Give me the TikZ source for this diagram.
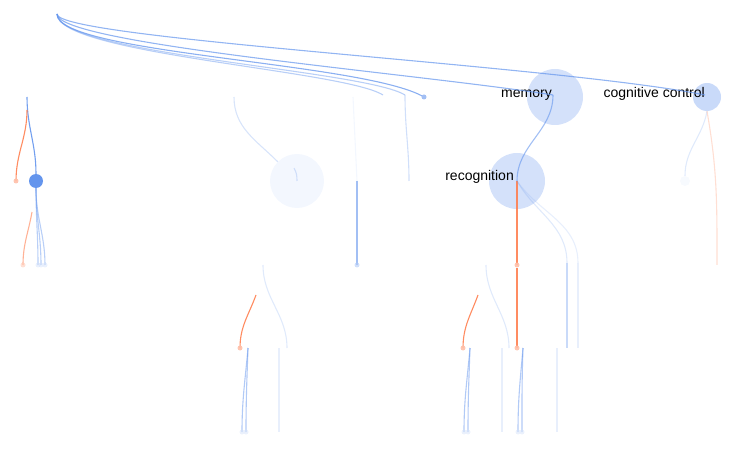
\documentclass[tikz,border=0pt]{standalone}
\usepackage{fontspec}
\setmainfont{Liberation Sans}
\definecolor{cblue}{HTML}{6495ED}
\definecolor{corange}{HTML}{FF7F50}
\tikzset{
  blink/.style={draw=cblue, line width=1.1pt, opacity=#1},
  blink/.default=0.55,
  olink/.style={draw=corange, line width=1.1pt, opacity=#1},
  olink/.default=0.9,
  topic/.style={circle, inner sep=0pt, minimum size=#1, draw=none},
  tip/.style={circle, inner sep=0pt, minimum size=5pt, fill=#1},
  lab/.style={font=\fontsize{14}{16}\selectfont, anchor=base east, inner sep=0pt}
}
\begin{document}
\begin{tikzpicture}[x=1pt, y=-1pt]
  \useasboundingbox (0,0) rectangle (742,465);
  % Topics
  \node[topic=56pt, fill=cblue!28] (memory) at (555,97) {};
  \node[topic=28pt, fill=cblue!35] (control) at (707,97) {};
  \node[topic=56pt, fill=cblue!28] (recog) at (517,181) {};
  \node[topic=54pt, fill=cblue!8] (ghost) at (297,181) {};
  \node[topic=14pt, fill=cblue] (hub) at (36,181) {};
  \node[topic=10pt, fill=cblue!5] (ghostb) at (685,181) {};
  % Labels
  \node[lab] at (552,98) {memory};
  \node[lab] at (705,98) {cognitive control};
  \node[lab] at (514,181) {recognition};
  % Ends
  \coordinate (root) at (57,14);
  \coordinate (ta) at (383,95);
  \coordinate (tb) at (405,95);
  \coordinate (tc) at (424,97);
  \coordinate (tm) at (553,95);
  \coordinate (tk) at (705,95);
  \coordinate (la) at (27,97);
  \coordinate (lb) at (27,110);
  \coordinate (lc) at (32,212);
  \coordinate (ma) at (234,97);
  \coordinate (mb) at (353,97);
  \coordinate (mc) at (357,181);
  \coordinate (md) at (409,181);
  \coordinate (me) at (294,168);
  \coordinate (ra) at (567,263);
  \coordinate (rb) at (578,263);
  \coordinate (rc) at (717,265);
  \coordinate (rd) at (567,348);
  \coordinate (re) at (578,348);
  % Top arcs
  \draw[blink=0.45] (root) .. controls +(0,40) and +(-40,-25) .. (ta);
  \draw[blink=0.45] (root) .. controls +(0,40) and +(-40,-25) .. (tb);
  \draw[blink=0.75] (root) .. controls +(0,40) and +(-60,-35) .. (tc);
  \draw[blink=0.7] (root) .. controls +(0,30) and +(-140,-22) .. (tm);
  \draw[blink=0.7] (root) .. controls +(0,25) and +(-150,-30) .. (tk);
  \node[tip=cblue!60] at (tc) {};
  % Left tree
  \draw[blink=0.9] (la) to[out=-90,in=90] (hub);
  \draw[olink] (lb) to[out=-90,in=90] (16,181) node[tip=corange!50] (lo) {};
  \draw[blink=0.45] (hub) to[out=-90,in=90] (38,265) node[tip=cblue!30] (l1) {};
  \draw[blink=0.45] (hub) to[out=-90,in=90] (41,265) node[tip=cblue!30] (l2) {};
  \draw[blink=0.45] (hub) to[out=-90,in=90] (45,265) node[tip=cblue!30] (l3) {};
  \draw[olink=0.6] (lc) to[out=-100,in=90] (23,265) node[tip=corange!40] (l4) {};
  % Middle tree
  \draw[blink=0.25] (ma) to[out=-90,in=135] (ghost.north west);
  \draw[blink=0.25] (me) to[out=-60,in=90] (ghost.center);
  \draw[blink=0.08] (mb) -- (mc);
  \draw[blink=0.6] (mc) -- (357,265) node[tip=cblue!50] (m1) {};
  \draw[blink=0.3] (tb) to[out=-90,in=90] (md);
  % Memory and control
  \draw[blink=0.6] (tm) to[out=-90,in=90] (recog.center);
  \draw[blink=0.2] (control.south) to[out=-100,in=90] (ghostb);
  \draw[olink=0.25] (control.south) to[out=-80,in=90] (rc);
  % Recognition tree
  \draw[olink] (recog.center) -- (517,265) node[tip=corange!50] (r1) {};
  \draw[olink] (r1) -- (517,348) node[tip=corange!50] (r2) {};
  \draw[blink=0.2] (recog.center) to[out=-60,in=90] (ra);
  \draw[blink=0.15] (recog.center) to[out=-55,in=90] (rb);
  \draw[blink=0.35] (ra) -- (rd);
  \draw[blink=0.15] (rb) -- (re);
  % Lower left tree
  \draw[olink] (256,295) to[out=-110,in=90] (240,348) node[tip=corange!50] (p1) {};
  \draw[blink=0.2] (263,265) to[out=-90,in=90] (287,348);
  \draw[blink=0.5] (248,348) to[out=-95,in=90] (242,432) node[tip=cblue!25] (p2) {};
  \draw[blink=0.5] (248,348) to[out=-92,in=90] (246,432) node[tip=cblue!25] (p3) {};
  \draw[blink=0.15] (279,348) -- (279,432);
  % Lower right tree
  \draw[olink] (478,295) to[out=-110,in=90] (463,348) node[tip=corange!50] (q1) {};
  \draw[blink=0.2] (486,265) to[out=-90,in=90] (509,348);
  \draw[blink=0.5] (470,348) to[out=-95,in=90] (464,432) node[tip=cblue!25] (q2) {};
  \draw[blink=0.5] (470,348) to[out=-92,in=90] (468,432) node[tip=cblue!25] (q3) {};
  \draw[blink=0.15] (502,348) -- (502,432);
  \draw[blink=0.5] (523,348) to[out=-95,in=90] (518,432) node[tip=cblue!25] (q4) {};
  \draw[blink=0.5] (523,348) to[out=-92,in=90] (522,432) node[tip=cblue!25] (q5) {};
  \draw[blink=0.15] (557,348) -- (557,432);
\end{tikzpicture}
\end{document}
